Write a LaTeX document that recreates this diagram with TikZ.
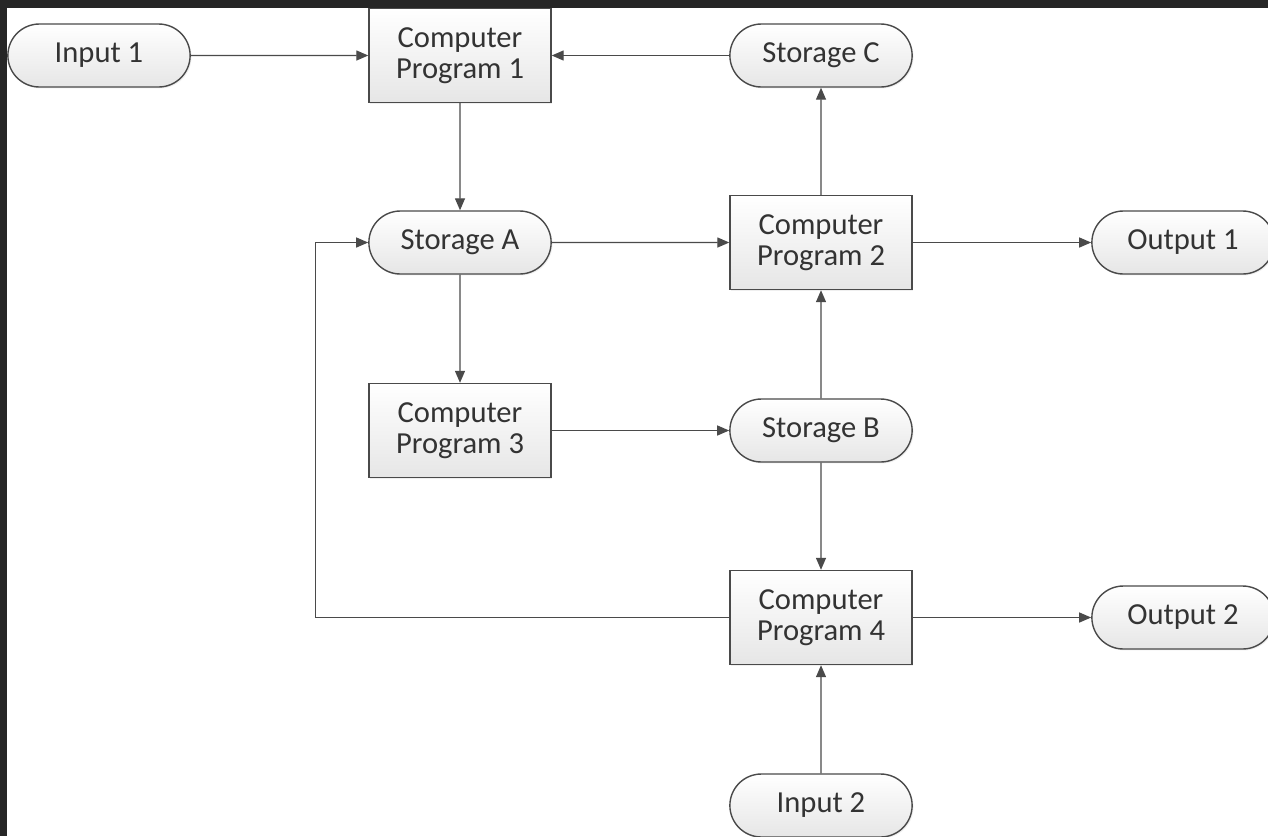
\documentclass[tikz,border=0pt]{standalone}
\usepackage{fontspec}
\setmainfont{Carlito}
\usetikzlibrary{arrows.meta,shapes.misc,shadows}
\definecolor{frame}{HTML}{262626}
\definecolor{edge}{HTML}{4A4A4A}
\definecolor{txt}{HTML}{333333}
\definecolor{boxbot}{HTML}{E6E6E6}
\begin{document}
\begin{tikzpicture}[x=0.02cm,y=-0.02cm,
  every node/.style={font=\fontsize{17.4}{17.6}\selectfont, text=txt, align=center},
  prog/.style={draw=edge, line width=0.8pt, rectangle, minimum width=3.64cm, minimum height=1.88cm,
    top color=white, bottom color=boxbot,
    drop shadow={opacity=0.12, shadow xshift=0.8pt, shadow yshift=-0.8pt}},
  term/.style={draw=edge, line width=0.8pt, rounded rectangle, minimum width=3.88cm, minimum height=1.26cm,
    top color=white, bottom color=boxbot,
    drop shadow={opacity=0.12, shadow xshift=0.8pt, shadow yshift=-0.8pt}},
  arr/.style={draw=edge, line width=0.75pt, -{Triangle[length=0.24cm, width=0.2cm]}}]
\clip (0,0) rectangle (1268,836);
\fill[frame] (0,0) rectangle (1268,836);
\fill[white] (7,8) rectangle (1268,836);

\node[term] (in1) at (99,55.5) {Input 1};
\node[prog] (cp1) at (460,55.5) {Computer\\Program 1};
\node[term] (stc) at (821,55.5) {Storage C};
\node[term] (sta) at (460,242.5) {Storage A};
\node[prog] (cp2) at (821,242.5) {Computer\\Program 2};
\node[term] (out1) at (1183,242.5) {Output 1};
\node[prog] (cp3) at (460,430.5) {Computer\\Program 3};
\node[term] (stb) at (821,430.5) {Storage B};
\node[prog] (cp4) at (821,617.5) {Computer\\Program 4};
\node[term] (out2) at (1183,617.5) {Output 2};
\node[term] (in2) at (821,805.5) {Input 2};

\draw[arr] (in1) -- (cp1);
\draw[arr] (stc) -- (cp1);
\draw[arr] (cp1) -- (sta);
\draw[arr] (sta) -- (cp2);
\draw[arr] (cp2) -- (stc);
\draw[arr] (cp2) -- (out1);
\draw[arr] (sta) -- (cp3);
\draw[arr] (cp3) -- (stb);
\draw[arr] (stb) -- (cp2);
\draw[arr] (stb) -- (cp4);
\draw[arr] (cp4) -- (out2);
\draw[arr] (in2) -- (cp4);
\draw[arr] (cp4.west) -- ++(-414,0) |- (sta.west);
\end{tikzpicture}
\end{document}
